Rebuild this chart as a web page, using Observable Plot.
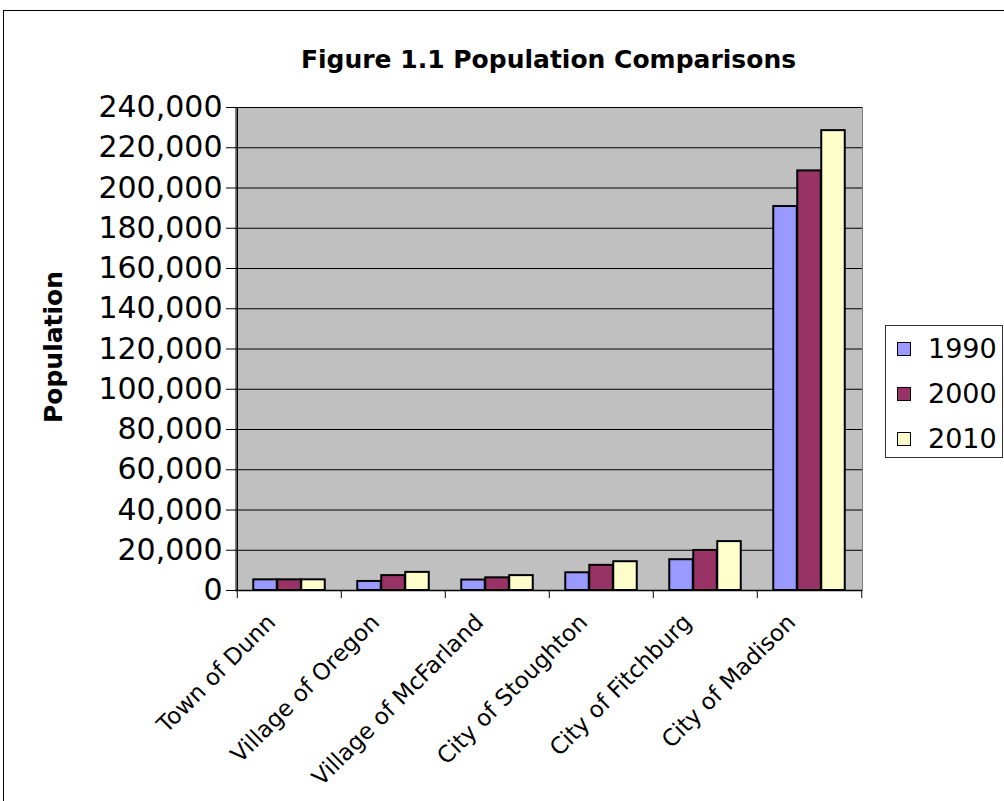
<!DOCTYPE html>
<html><head><meta charset="utf-8">
<script src="https://cdn.jsdelivr.net/npm/d3@7"></script>
<script src="https://cdn.jsdelivr.net/npm/@observablehq/plot@0.6"></script>
<style>
html,body{margin:0;padding:0;background:#fff;width:1004px;height:801px;overflow:hidden;font-family:"DejaVu Sans",sans-serif;color:#000;}
#frame{position:absolute;left:3px;top:10px;width:1100px;height:900px;border:1.5px solid #000;box-sizing:border-box;}
#title{position:absolute;left:235px;width:627px;top:47px;text-align:center;font-weight:bold;font-size:25px;line-height:25px;white-space:nowrap;}
#ylabel{position:absolute;left:53px;top:347px;transform:translate(-50%,-50%) rotate(-90deg);font-weight:bold;font-size:25px;line-height:25px;white-space:nowrap;}
#legend{position:absolute;left:885px;top:325px;width:118px;height:133px;border:1px solid #333;box-sizing:border-box;padding-top:0px;}
#legend .row{display:flex;align-items:center;height:45px;font-size:27px;line-height:27px;}
#legend .sw{width:14px;height:14px;border:1.5px solid #000;margin-left:11px;margin-right:17px;box-sizing:border-box;}
#chart{position:absolute;left:0;top:0;}
</style></head>
<body>
<div id="frame"></div>
<div id="chart"></div>
<div id="title">Figure 1.1 Population Comparisons</div>
<div id="ylabel">Population</div>
<div id="legend"></div>
<script>
const cities = ["Town of Dunn", "Village of Oregon", "Village of McFarland", "City of Stoughton", "City of Fitchburg", "City of Madison"];
const years = ["1990", "2000", "2010"];
const pop1990 = [5300, 4500, 5200, 8800, 15300, 190800];
const pop2000 = [5300, 7400, 6300, 12500, 19900, 208500];
const pop2010 = [5300, 9000, 7400, 14300, 24300, 228500];
const yearColors = ["#9999ff", "#993366", "#ffffcc"];
const yTicks = [0, 20000, 40000, 60000, 80000, 100000, 120000, 140000, 160000, 180000, 200000, 220000, 240000];

const series = [pop1990, pop2000, pop2010];
const data = years.flatMap((yr, j) => cities.map((c, i) => ({city: c, year: yr, value: series[j][i]})));

const W = 1004, H = 801, mL = 235, mR = 142, mT = 107, mB = 211;
const bw = (W - mL - mR) / cities.length;
const barW = 24;
const off = (bw - years.length * barW) / 2;

const chart = Plot.plot({
  width: W, height: H,
  marginLeft: mL, marginRight: mR, marginTop: mT, marginBottom: mB,
  style: {fontFamily: "DejaVu Sans", background: "transparent", color: "#000", overflow: "visible"},
  x: {domain: cities, padding: 0},
  y: {domain: [0, 240000], nice: false},
  marks: [
    Plot.frame({fill: "#c0c0c0", stroke: "#808080"}),
    Plot.ruleY(yTicks, {stroke: "#000", strokeWidth: 1}),
    ...years.map((yr, j) => Plot.barY(data.filter(d => d.year === yr), {
      x: "city", y: "value", fill: yearColors[j], stroke: "#000", strokeWidth: 2,
      insetLeft: off + j * barW, insetRight: bw - off - (j + 1) * barW
    })),
    Plot.ruleY([0], {stroke: "#000", strokeWidth: 1.5}),
    Plot.ruleX([cities[0]], {dx: -bw / 2, stroke: "#000", strokeWidth: 1.5}),
    Plot.axisY({ticks: yTicks, tickSize: 9, tickPadding: 4, tickFormat: d3.format(","), fontSize: 30, label: null, stroke: "#000"}),
    Plot.axisX({tickSize: 0, tickRotate: -45, tickPadding: 28, dx: -18, fontSize: 23, label: null}),
    Plot.axisX({tickSize: 8, tickFormat: () => "", dx: -bw / 2, label: null}),
    Plot.axisX({ticks: [cities[cities.length - 1]], tickSize: 8, tickFormat: () => "", dx: bw / 2, label: null})
  ]
});
document.getElementById("chart").appendChild(chart);

const legend = document.getElementById("legend");
years.forEach((yr, j) => {
  const row = document.createElement("div");
  row.className = "row";
  const sw = document.createElement("div");
  sw.className = "sw";
  sw.style.background = yearColors[j];
  const t = document.createElement("span");
  t.textContent = yr;
  row.appendChild(sw); row.appendChild(t);
  legend.appendChild(row);
});
</script>
</body></html>
